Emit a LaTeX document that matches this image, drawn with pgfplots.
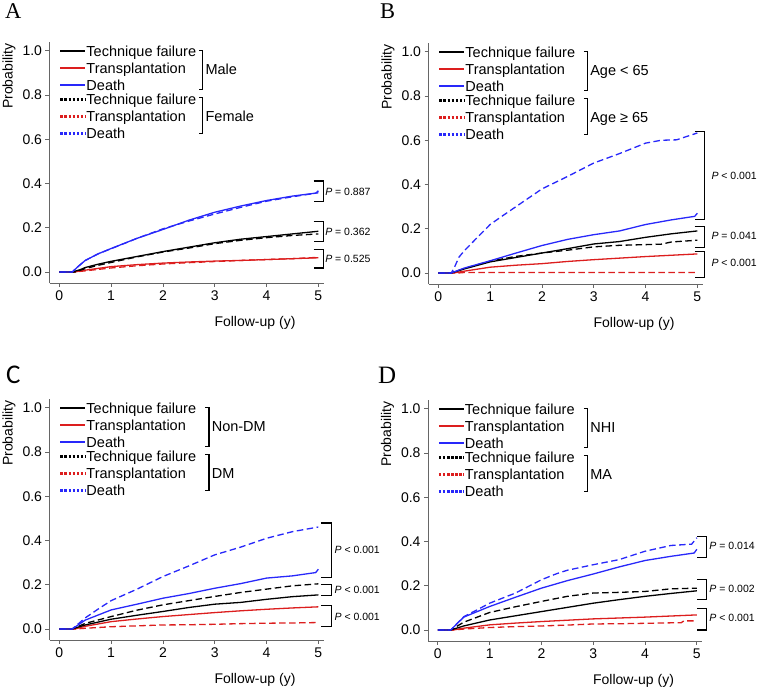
\documentclass[border=0pt]{standalone}
\usepackage{fontspec}
\setmainfont{Liberation Sans}
\newfontfamily\serifletter{Liberation Serif}
\newfontfamily\cletter{Carlito}
\usepackage{pgfplots}
\pgfplotsset{compat=1.18}
\definecolor{myred}{RGB}{220,30,30}
\definecolor{myblue}{RGB}{40,40,250}
\newcommand{\legfont}{\fontsize{14.5}{16}\selectfont}
\newcommand{\pfont}{\fontsize{10.5}{12}\selectfont}
\newcommand{\letfont}{\serifletter\fontsize{22.5}{23}\selectfont}

\pgfplotsset{
  panel/.style={
    scale only axis, width=274pt, height=241pt,
    xmin=-0.19, xmax=5.1, ymin=-0.05, ymax=1.04,
    axis lines=left,
    axis line style={-, draw=black!60, line width=0.8pt},
    xtick={0,1,2,3,4,5}, ytick={0,0.2,0.4,0.6,0.8,1.0},
    yticklabel style={/pgf/number format/fixed, /pgf/number format/fixed zerofill, /pgf/number format/precision=1},
    tick style={draw=black!60, line width=0.8pt},
    tick align=outside, major tick length=4pt,
    /pgf/number format/assume math mode=true,
    tick label style={font=\fontsize{14}{16}\selectfont},
    label style={font=\fontsize{14}{16}\selectfont},
    xlabel={Follow-up (y)}, ylabel={Probability},
    xlabel style={at={(ticklabel cs:0.75)}, anchor=north, yshift=-9pt},
    ylabel style={at={(ticklabel cs:0.858)}, anchor=south},
    clip=false,
  },
  sol/.style={line width=1.3pt},
  das/.style={line width=1.3pt, dash pattern=on 6.5pt off 3.5pt},
}

% legend: #1 first group label, #2 second group label, #3 bracket x
\newcommand{\legendblock}[3]{%
  \draw[black, line width=2.4pt] (axis cs:0.02,1.0) -- (axis cs:0.5,1.0);
  \draw[myred, line width=2.4pt] (axis cs:0.02,0.923) -- (axis cs:0.5,0.923);
  \draw[myblue, line width=2.4pt] (axis cs:0.02,0.846) -- (axis cs:0.5,0.846);
  \draw[black, line width=2.4pt, dash pattern=on 2.5pt off 1.6pt] (axis cs:0.02,0.78) -- (axis cs:0.5,0.78);
  \draw[myred, line width=2.4pt, dash pattern=on 2.5pt off 1.6pt] (axis cs:0.02,0.703) -- (axis cs:0.5,0.703);
  \draw[myblue, line width=2.4pt, dash pattern=on 2.5pt off 1.6pt] (axis cs:0.02,0.626) -- (axis cs:0.5,0.626);
  \node[anchor=base west, inner sep=0pt, font=\legfont, yshift=-5.2pt] at (axis cs:0.52,1.0) {Technique failure};
  \node[anchor=base west, inner sep=0pt, font=\legfont, yshift=-5.2pt] at (axis cs:0.52,0.923) {Transplantation};
  \node[anchor=base west, inner sep=0pt, font=\legfont, yshift=-5.2pt] at (axis cs:0.52,0.846) {Death};
  \node[anchor=base west, inner sep=0pt, font=\legfont, yshift=-5.2pt] at (axis cs:0.52,0.78) {Technique failure};
  \node[anchor=base west, inner sep=0pt, font=\legfont, yshift=-5.2pt] at (axis cs:0.52,0.703) {Transplantation};
  \node[anchor=base west, inner sep=0pt, font=\legfont, yshift=-5.2pt] at (axis cs:0.52,0.626) {Death};
  \draw[line width=1.2pt] (axis cs:#3-0.07,1.0) -- (axis cs:#3,1.0) -- (axis cs:#3,0.825) -- (axis cs:#3-0.07,0.825);
  \draw[line width=1.2pt] (axis cs:#3-0.07,0.79) -- (axis cs:#3,0.79) -- (axis cs:#3,0.627) -- (axis cs:#3-0.07,0.627);
  \node[anchor=base west, inner sep=0pt, font=\legfont, yshift=-5.2pt] at (axis cs:#3+0.05,0.918) {#1};
  \node[anchor=base west, inner sep=0pt, font=\legfont, yshift=-5.2pt] at (axis cs:#3+0.05,0.705) {#2};
}
% p-value bracket: #1 x left, #2 x vertical, #3 ytop, #4 ybot, #5 text x, #6 text y, #7 text
\newcommand{\pbr}[7]{%
  \draw[line width=1.2pt] (axis cs:#1,#3) -- (axis cs:#2,#3) -- (axis cs:#2,#4) -- (axis cs:#1,#4);
  \node[anchor=west, inner sep=0pt, font=\pfont] at (axis cs:#5,#6) {#7};
}

\begin{document}
\begin{tikzpicture}
\path[use as bounding box] (0,0) rectangle (757pt,687pt);

% ---------------- Panel A ----------------
\node[anchor=base west, inner sep=0pt, font=\letfont] at (5pt,668.7pt) {A};
\begin{axis}[panel, at={(49.5pt,404pt)}, anchor=south west]
\addplot[myred, sol] coordinates {(0,0) (0.3,0) (0.5,0.008) (1,0.024) (1.5,0.033) (2,0.04) (2.5,0.045) (3,0.049) (3.5,0.052) (4,0.056) (4.5,0.06) (5,0.064)};
\addplot[myred, das] coordinates {(0,0) (0.3,0) (0.5,0.005) (1,0.018) (1.5,0.028) (2,0.036) (2.5,0.042) (3,0.047) (3.5,0.052) (4,0.056) (4.5,0.06) (5,0.066)};
\addplot[black, sol] coordinates {(0,0) (0.25,0) (0.4,0.01) (0.5,0.02) (0.75,0.035) (1,0.048) (1.5,0.07) (2,0.092) (2.5,0.112) (3,0.132) (3.5,0.148) (4,0.16) (4.5,0.172) (5,0.184)};
\addplot[black, das] coordinates {(0,0) (0.3,0) (0.5,0.015) (0.75,0.03) (1,0.043) (1.5,0.068) (2,0.09) (2.5,0.108) (3,0.128) (3.5,0.143) (4,0.155) (4.5,0.165) (5,0.172)};
\addplot[myblue, sol] coordinates {(0,0) (0.25,0) (0.35,0.022) (0.5,0.052) (0.75,0.082) (1,0.106) (1.5,0.152) (2,0.192) (2.5,0.234) (3,0.27) (3.5,0.298) (4,0.323) (4.5,0.343) (5,0.358)};
\addplot[myblue, das] coordinates {(0,0) (0.25,0) (0.35,0.022) (0.5,0.052) (0.75,0.082) (1,0.105) (1.5,0.152) (2,0.195) (2.5,0.23) (3,0.262) (3.5,0.292) (4,0.32) (4.5,0.34) (4.95,0.356) (5,0.367)};
\legendblock{Male}{Female}{2.77}
\pbr{4.91}{5.10}{0.411}{0.318}{5.13}{0.36}{\textit{P} = 0.887}
\pbr{4.91}{5.10}{0.228}{0.138}{5.13}{0.183}{\textit{P} = 0.362}
\pbr{4.91}{5.10}{0.103}{0.018}{5.13}{0.06}{\textit{P} = 0.525}
\end{axis}

% ---------------- Panel B ----------------
\node[anchor=base west, inner sep=0pt, font=\letfont] at (380pt,668.7pt) {B};
\begin{axis}[panel, at={(428.5pt,403pt)}, anchor=south west]
\addplot[myred, sol] coordinates {(0,0) (0.3,0) (0.5,0.008) (1,0.026) (1.5,0.035) (2,0.042) (2.5,0.052) (3,0.06) (3.5,0.067) (4,0.074) (4.5,0.08) (5,0.086)};
\addplot[myred, das] coordinates {(0,0) (0.4,0) (0.5,0.002) (5,0.002)};
\addplot[black, sol] coordinates {(0,0) (0.25,0) (0.5,0.018) (1,0.05) (1.5,0.07) (2,0.09) (2.5,0.11) (3,0.131) (3.5,0.142) (4,0.161) (4.5,0.177) (5,0.19)};
\addplot[black, das] coordinates {(0,0) (0.25,0) (0.5,0.02) (1,0.053) (1.5,0.075) (2,0.09) (2.5,0.103) (3,0.118) (3.5,0.125) (4,0.128) (4.3,0.13) (4.5,0.14) (5,0.148)};
\addplot[myblue, sol] coordinates {(0,0) (0.25,0) (0.5,0.022) (1,0.055) (1.5,0.09) (2,0.124) (2.5,0.152) (3,0.173) (3.5,0.19) (4,0.219) (4.5,0.24) (4.95,0.256) (5,0.27)};
\addplot[myblue, das] coordinates {(0,0) (0.25,0) (0.3,0.02) (0.4,0.072) (0.5,0.1) (0.75,0.16) (1,0.219) (1.25,0.26) (1.5,0.3) (2,0.38) (2.5,0.437) (3,0.497) (3.5,0.54) (4,0.587) (4.3,0.6) (4.6,0.602) (5,0.633)};
\legendblock{Age < 65}{Age ≥ 65}{2.88}
\pbr{4.95}{5.14}{0.638}{0.241}{5.27}{0.437}{\textit{P} < 0.001}
\pbr{4.95}{5.14}{0.211}{0.116}{5.27}{0.166}{\textit{P} = 0.041}
\pbr{4.95}{5.14}{0.098}{-0.02}{5.27}{0.045}{\textit{P} < 0.001}
\end{axis}

% ---------------- Panel C ----------------
\node[anchor=base west, inner sep=0pt, font=\cletter\fontsize{27}{28}\selectfont] at (6pt,303.7pt) {C};
\begin{axis}[panel, at={(49.5pt,47pt)}, anchor=south west]
\addplot[myred, sol] coordinates {(0,0) (0.3,0) (0.5,0.012) (1,0.033) (1.5,0.045) (2,0.056) (2.5,0.065) (3,0.074) (3.5,0.082) (4,0.089) (4.5,0.095) (5,0.1)};
\addplot[myred, das] coordinates {(0,0) (0.3,0) (0.5,0.003) (1,0.01) (1.5,0.014) (2,0.018) (2.5,0.019) (3,0.021) (3.5,0.024) (4,0.026) (4.5,0.027) (5,0.029)};
\addplot[black, sol] coordinates {(0,0) (0.25,0) (0.5,0.018) (1,0.044) (1.5,0.062) (2,0.079) (2.5,0.097) (3,0.112) (3.5,0.12) (4,0.134) (4.5,0.146) (5,0.154)};
\addplot[black, das] coordinates {(0,0) (0.25,0) (0.5,0.025) (1,0.056) (1.5,0.085) (2,0.109) (2.5,0.128) (3,0.147) (3.5,0.165) (4,0.18) (4.5,0.195) (5,0.204)};
\addplot[myblue, sol] coordinates {(0,0) (0.25,0) (0.5,0.04) (1,0.086) (1.5,0.112) (2,0.139) (2.5,0.16) (3,0.184) (3.5,0.205) (4,0.23) (4.5,0.24) (4.95,0.255) (5,0.27)};
\addplot[myblue, das] coordinates {(0,0) (0.25,0) (0.4,0.03) (0.5,0.05) (0.75,0.09) (1,0.128) (1.5,0.18) (2,0.237) (2.5,0.285) (3,0.335) (3.5,0.37) (4,0.41) (4.5,0.44) (5,0.461)};
\legendblock{Non-DM}{DM}{2.89}
\pbr{5.05}{5.25}{0.479}{0.234}{5.31}{0.358}{\textit{P} < 0.001}
\pbr{5.05}{5.25}{0.202}{0.151}{5.31}{0.177}{\textit{P} < 0.001}
\pbr{5.05}{5.25}{0.106}{0.011}{5.31}{0.056}{\textit{P} < 0.001}
\end{axis}

% ---------------- Panel D ----------------
\node[anchor=base west, inner sep=0pt, font=\serifletter\fontsize{25}{26}\selectfont] at (378pt,303.7pt) {D};
\begin{axis}[panel, at={(428pt,46pt)}, anchor=south west]
\addplot[myred, sol] coordinates {(0,0) (0.3,0) (0.5,0.008) (1,0.023) (1.5,0.031) (2,0.038) (2.5,0.044) (3,0.05) (3.5,0.054) (4,0.058) (4.5,0.063) (5,0.068)};
\addplot[myred, das] coordinates {(0,0) (0.3,0) (0.5,0.004) (1,0.011) (1.5,0.015) (2,0.018) (2.5,0.022) (3,0.027) (3.5,0.028) (4,0.03) (4.7,0.033) (4.75,0.041) (5,0.041)};
\addplot[black, sol] coordinates {(0,0) (0.25,0) (0.5,0.018) (1,0.045) (1.5,0.064) (2,0.083) (2.5,0.102) (3,0.121) (3.5,0.137) (4,0.152) (4.5,0.165) (5,0.177)};
\addplot[black, das] coordinates {(0,0) (0.25,0) (0.5,0.035) (1,0.079) (1.5,0.105) (2,0.129) (2.5,0.152) (3,0.167) (3.5,0.17) (4,0.174) (4.5,0.186) (5,0.189)};
\addplot[myblue, sol] coordinates {(0,0) (0.25,0) (0.5,0.058) (1,0.106) (1.5,0.148) (2,0.189) (2.5,0.223) (3,0.253) (3.5,0.285) (4,0.314) (4.5,0.333) (4.95,0.348) (5,0.365)};
\addplot[myblue, das] coordinates {(0,0) (0.25,0) (0.5,0.06) (0.75,0.09) (1,0.121) (1.5,0.167) (2,0.227) (2.3,0.255) (2.5,0.27) (3,0.295) (3.5,0.318) (4,0.356) (4.5,0.382) (4.9,0.388) (5,0.417)};
\legendblock{NHI}{MA}{2.89}
\pbr{5.01}{5.19}{0.424}{0.326}{5.24}{0.379}{\textit{P} = 0.014}
\pbr{5.01}{5.19}{0.227}{0.139}{5.24}{0.185}{\textit{P} = 0.002}
\pbr{5.01}{5.19}{0.098}{0.0}{5.24}{0.053}{\textit{P} < 0.001}
\end{axis}
\end{tikzpicture}
\end{document}
